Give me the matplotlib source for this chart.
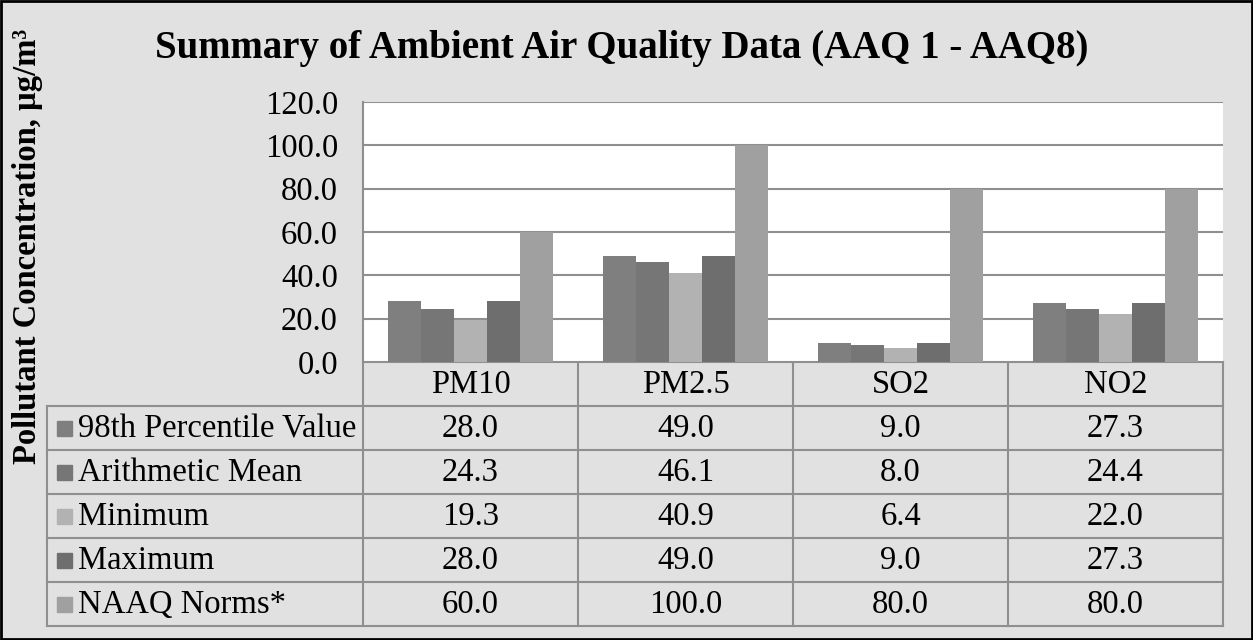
import matplotlib.pyplot as plt
import numpy as np

plt.rcParams['font.family'] = ['Liberation Serif', 'DejaVu Serif']

pollutants = ['PM10', 'PM2.5', 'SO2', 'NO2']
series = ['98th Percentile Value', 'Arithmetic Mean', 'Minimum', 'Maximum', 'NAAQ Norms*']
p98 = [28.0, 49.0, 9.0, 27.3]
mean = [24.3, 46.1, 8.0, 24.4]
minimum = [19.3, 40.9, 6.4, 22.0]
maximum = [28.0, 49.0, 9.0, 27.3]
naaq = [60.0, 100.0, 80.0, 80.0]
values = [p98, mean, minimum, maximum, naaq]
yticks = [0, 20, 40, 60, 80, 100, 120]

colors = ['#7f7f7f', '#767676', '#b2b2b2', '#6e6e6e', '#a0a0a0']
bg = '#e1e1e1'
line_c = '#8f8f8f'
fs = 23.5

W, H = 1253, 640
fig = plt.figure(figsize=(W / 100, H / 100), dpi=100, facecolor=bg)

# pixel overlay for table, title, border
ov = fig.add_axes([0, 0, 1, 1])
ov.set_xlim(0, W)
ov.set_ylim(H, 0)
ov.axis('off')

px_left, px_right, px_top, px_bot = 363, 1223, 102, 362
ax = fig.add_axes([px_left / W, 1 - px_bot / H, (px_right - px_left) / W, (px_bot - px_top) / H])
ax.set_facecolor('white')
n = len(series)
bw = 0.153
x = np.arange(len(pollutants))
for i, (vals, c) in enumerate(zip(values, colors)):
    ax.bar(x + (i - (n - 1) / 2) * bw, vals, bw, color=c, zorder=3)
ax.set_xlim(-0.5, len(pollutants) - 0.5)
ax.set_ylim(0, 120)
ax.set_yticks(yticks)
ax.set_yticklabels([f'{v:.1f}' for v in yticks], fontsize=fs)
ax.set_xticks([])
ax.tick_params(axis='y', length=0, pad=18)
ax.grid(axis='y', color=line_c, linewidth=1.5, zorder=0)
for s in ['top', 'right', 'bottom']:
    ax.spines[s].set_visible(False)
ax.spines['left'].set_color(line_c)
ax.spines['left'].set_linewidth(1.5)

# data table
row_h = 44
tbl_top = px_bot
col_w = (px_right - px_left) / len(pollutants)
tbl_left = 47
n_rows = len(series) + 1
tbl_bot = tbl_top + n_rows * row_h
lw = 1.5
ov.plot([px_left, px_right], [tbl_top, tbl_top], color=line_c, lw=lw)
for r in range(1, n_rows + 1):
    y = tbl_top + r * row_h
    ov.plot([tbl_left, px_right], [y, y], color=line_c, lw=lw)
ov.plot([tbl_left, tbl_left], [tbl_top + row_h, tbl_bot], color=line_c, lw=lw)
for cidx in range(len(pollutants) + 1):
    xx = px_left + cidx * col_w
    ov.plot([xx, xx], [tbl_top, tbl_bot], color=line_c, lw=lw)
for cidx, p in enumerate(pollutants):
    ov.text(px_left + (cidx + 0.5) * col_w, tbl_top + row_h / 2 + 1, p,
            ha='center', va='center', fontsize=fs)
for r, (name, vals, c) in enumerate(zip(series, values, colors)):
    yc = tbl_top + (r + 1.5) * row_h + 1
    ov.add_patch(plt.Rectangle((57, yc - 8), 15, 15, color=c))
    ov.text(78, yc, name, ha='left', va='center', fontsize=fs)
    for cidx, v in enumerate(vals):
        ov.text(px_left + (cidx + 0.5) * col_w, yc, f'{v:.1f}',
                ha='center', va='center', fontsize=fs)

ov.text(622, 58, 'Summary of Ambient Air Quality Data (AAQ 1 - AAQ8)',
        ha='center', va='baseline', fontsize=28, fontweight='bold')
ov.text(28, 246, 'Pollutant Concentration, \u00b5g/m\u00b3', rotation=90,
        ha='center', va='center', fontsize=23.5, fontweight='bold')

# outer border
ov.add_patch(plt.Rectangle((1, 1), W - 2, H - 2, fill=False, edgecolor='black', lw=2))

fig.savefig('out.png', dpi=100, facecolor=bg)
